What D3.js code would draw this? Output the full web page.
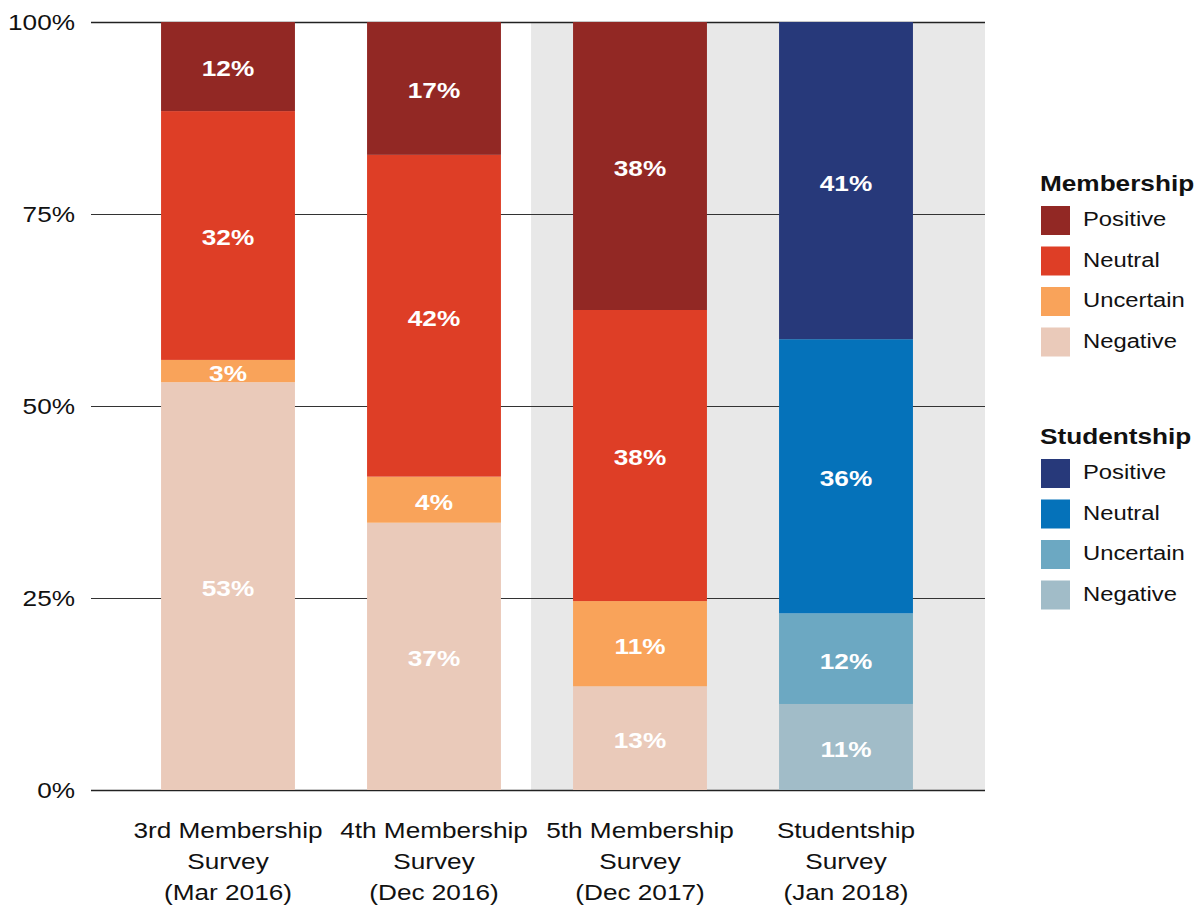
<!DOCTYPE html><meta charset="utf-8">
<title>Survey sentiment</title>
<style>
  body{margin:0;background:#fff;font-family:"Liberation Sans",Arial,Helvetica,sans-serif}
  svg{display:block}
</style>
<script src="https://d3js.org/d3.v7.min.js"></script>
<body><script>
const W = 1198, H = 906;
const SX = 1.19;   // the original lettering is a bit wider than Liberation Sans

// data
const surveys  = ["3rd Membership|Survey|(Mar 2016)", "4th Membership|Survey|(Dec 2016)",
                  "5th Membership|Survey|(Dec 2017)", "Studentship|Survey|(Jan 2018)"];
const groups   = ["Membership", "Membership", "Membership", "Studentship"];
const levels   = ["Negative", "Uncertain", "Neutral", "Positive"];   // stacked bottom -> top
const negative  = [53.1, 34.8, 13.5, 11.2];
const uncertain = [2.9, 6.0, 11.1, 11.8];
const neutral   = [32.4, 41.9, 37.9, 35.7];
const positive  = [11.6, 17.3, 37.5, 41.3];
const labNeg = ["53%", "37%", "13%", "11%"];
const labUnc = ["3%", "4%", "11%", "12%"];
const labNeu = ["32%", "42%", "38%", "36%"];
const labPos = ["12%", "17%", "38%", "41%"];
const yTicks = [0, 25, 50, 75, 100];

const colors = {
  Membership:  {Positive:"#922824", Neutral:"#de3e26", Uncertain:"#f9a35a", Negative:"#eacaba"},
  Studentship: {Positive:"#27397a", Neutral:"#0572ba", Uncertain:"#6ca8c2", Negative:"#a1bcc8"}
};

const rows = surveys.map((s,i)=>({
  survey:s, group:groups[i],
  Negative:negative[i], Uncertain:uncertain[i], Neutral:neutral[i], Positive:positive[i],
  labels:{Negative:labNeg[i], Uncertain:labUnc[i], Neutral:labNeu[i], Positive:labPos[i]}
}));

const m = {left:91, right:985, top:22, bottom:790};
const x = d3.scaleBand().domain(surveys).range([125, 949]).paddingInner(0.35).paddingOuter(0.175);
const y = d3.scaleLinear().domain([0,100]).range([m.bottom, m.top]);

const svg = d3.select("body").append("svg").attr("width",W).attr("height",H);
const at = (px,py)=>`translate(${px},${py}) scale(${SX},1)`;

// gray panel behind the last two surveys
const gx = x(surveys[2]) - 42;
svg.append("rect").attr("x",gx).attr("y",m.top).attr("width",m.right-gx)
  .attr("height",m.bottom-m.top).attr("fill","#e8e8e8");

// gridlines
svg.append("g").selectAll("line").data(yTicks).join("line")
  .attr("x1",m.left).attr("x2",m.right)
  .attr("y1",d=>Math.round(y(d))+0.5).attr("y2",d=>Math.round(y(d))+0.5)
  .attr("stroke",d=>d===0||d===100?"#222":"#333").attr("stroke-width",d=>d===0||d===100?1.5:1);

// y tick labels
svg.append("g").selectAll("text").data(yTicks).join("text")
  .attr("transform",d=>at(75,y(d))).attr("dy","0.36em")
  .attr("text-anchor","end").attr("font-size",22).attr("fill","#111")
  .text(d=>d+"%");

// stacks
const series = d3.stack().keys(levels)(rows);
const seg = svg.append("g").selectAll("g").data(series).join("g")
  .selectAll("g").data(s=>s.map(d=>({key:s.key, d}))).join("g");

seg.append("rect")
  .attr("x",p=>x(p.d.data.survey)).attr("width",x.bandwidth())
  .attr("y",p=>y(p.d[1])).attr("height",p=>y(p.d[0])-y(p.d[1]))
  .attr("fill",p=>colors[p.d.data.group][p.key]);

seg.append("text")
  .attr("transform",p=>at(x(p.d.data.survey)+x.bandwidth()/2,(y(p.d[0])+y(p.d[1]))/2+2))
  .attr("dy","0.36em")
  .attr("text-anchor","middle").attr("font-size",22).attr("font-weight","bold")
  .attr("fill","#fff")
  .text(p=>p.d.data.labels[p.key]);

// category labels
const cat = svg.append("g").selectAll("text").data(surveys).join("text")
  .attr("transform",d=>at(x(d)+x.bandwidth()/2,838))
  .attr("text-anchor","middle").attr("font-size",22).attr("fill","#111");
cat.selectAll("tspan").data(d=>d.split("|")).join("tspan")
  .attr("x",0).attr("dy",(d,i)=>i?31:0).text(d=>d);

// legends
const legendTop = {Membership:183, Studentship:436};
["Membership","Studentship"].forEach(g=>{
  const lg = svg.append("g").attr("transform",`translate(1040,${legendTop[g]})`);
  lg.append("text").attr("transform",at(0,0)).attr("dy","0.36em")
    .attr("font-size",22).attr("font-weight","bold").attr("fill","#111").text(g);
  const items = levels.slice().reverse();
  const it = lg.selectAll("g.it").data(items).join("g").attr("class","it")
    .attr("transform",(d,i)=>`translate(0,${23+i*40.5})`);
  it.append("rect").attr("x",1).attr("width",29).attr("height",29)
    .attr("fill",d=>colors[g][d]);
  it.append("text").attr("transform",at(43,13)).attr("dy","0.36em")
    .attr("font-size",20).attr("fill","#111").text(d=>d);
});
</script>
